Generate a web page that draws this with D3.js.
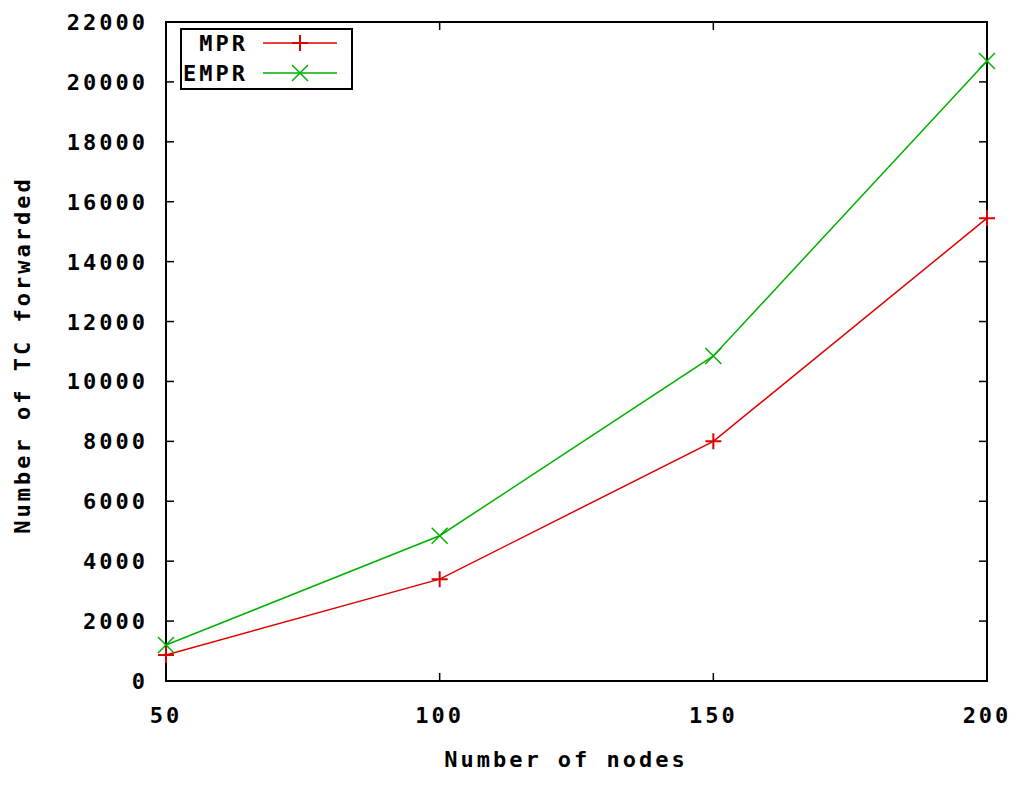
<!DOCTYPE html>
<html><head><meta charset="utf-8">
<script src="https://cdn.jsdelivr.net/npm/d3@7"></script>
<style>body{margin:0;background:#fff}text{font-family:"DejaVu Sans Mono",monospace;font-weight:bold;font-size:22px;letter-spacing:3px}</style>
</head><body>
<svg id="chart" width="1024" height="785"></svg>
<script>
var nodes=[50,100,150,200];
var mpr=[870,3400,8000,15450];
var empr=[1200,4850,10850,20700];
var yTicks=d3.range(0,22001,2000);
var seriesNames=["MPR","EMPR"];
var colors=["#e00000","#00b000"];

var svg=d3.select("#chart");
var L=166,R=987,T=22,B=681;
var x=d3.scaleLinear().domain([50,200]).range([L,R]);
var y=d3.scaleLinear().domain([0,22000]).range([B,T]);

svg.append("rect").attr("x",L).attr("y",T).attr("width",R-L).attr("height",B-T)
  .attr("fill","none").attr("stroke","#000").attr("stroke-width",2);

// ticks inside
yTicks.forEach(function(v){
  svg.append("line").attr("x1",L).attr("x2",L+8).attr("y1",y(v)).attr("y2",y(v)).attr("stroke","#000").attr("stroke-width",1.5);
  svg.append("line").attr("x1",R).attr("x2",R-8).attr("y1",y(v)).attr("y2",y(v)).attr("stroke","#000").attr("stroke-width",1.5);
  svg.append("text").attr("x",L-18).attr("y",y(v)+8).attr("text-anchor","end").text(v);
});
nodes.forEach(function(v){
  svg.append("line").attr("x1",x(v)).attr("x2",x(v)).attr("y1",B).attr("y2",B-8).attr("stroke","#000").attr("stroke-width",1.5);
  svg.append("line").attr("x1",x(v)).attr("x2",x(v)).attr("y1",T).attr("y2",T+8).attr("stroke","#000").attr("stroke-width",1.5);
  svg.append("text").attr("x",x(v)).attr("y",B+42).attr("text-anchor","middle").text(v);
});

svg.append("text").attr("x",566).attr("y",767).attr("text-anchor","middle").text("Number of nodes");
svg.append("text").attr("transform","translate(30,355) rotate(-90)").attr("text-anchor","middle").text("Number of TC forwarded");

var line=d3.line().x(function(d,i){return x(nodes[i]);}).y(function(d){return y(d);});
function plus(g,cx,cy,c){
  g.append("path").attr("d","M"+(cx-8)+","+cy+"H"+(cx+8)+"M"+cx+","+(cy-8)+"V"+(cy+8)).attr("stroke",c).attr("stroke-width",2);
}
function cross(g,cx,cy,c){
  g.append("path").attr("d","M"+(cx-8)+","+(cy-8)+"L"+(cx+8)+","+(cy+8)+"M"+(cx-8)+","+(cy+8)+"L"+(cx+8)+","+(cy-8)).attr("stroke",c).attr("stroke-width",1.5);
}
[mpr,empr].forEach(function(s,k){
  svg.append("path").datum(s).attr("d",line).attr("fill","none").attr("stroke",colors[k]).attr("stroke-width",1.5);
  s.forEach(function(v,i){ (k==0?plus:cross)(svg,x(nodes[i]),y(v),colors[k]); });
});

// legend
svg.append("rect").attr("x",181).attr("y",29).attr("width",171).attr("height",60).attr("fill","#fff").attr("stroke","#000").attr("stroke-width",2);
seriesNames.forEach(function(n,k){
  var ly=43+k*30;
  svg.append("text").attr("x",248).attr("y",ly+8).attr("text-anchor","end").text(n);
  svg.append("line").attr("x1",263).attr("x2",337).attr("y1",ly).attr("y2",ly).attr("stroke",colors[k]).attr("stroke-width",1.5);
  (k==0?plus:cross)(svg,300,ly,colors[k]);
});
</script>
</body></html>
